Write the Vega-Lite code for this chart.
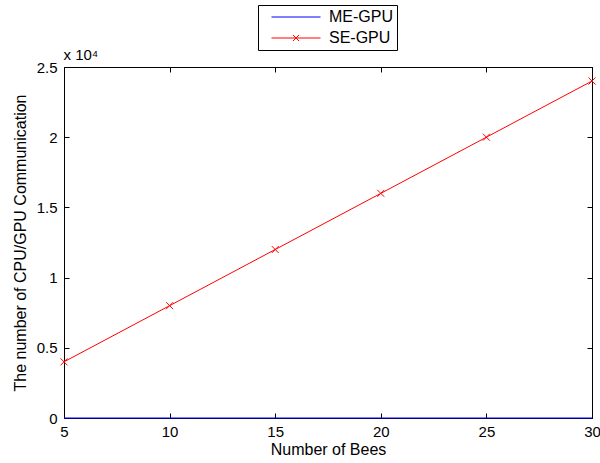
{
  "$schema": "https://vega.github.io/schema/vega-lite/v6.json",
  "width": 528,
  "height": 351,
  "autosize": {"type": "none"},
  "padding": {"left": 64, "top": 67, "right": 8, "bottom": 45},
  "background": "white",
  "config": {
    "view": {"stroke": null},
    "font": "Liberation Sans",
    "axis": {
      "domainColor": "black",
      "domainWidth": 1,
      "tickColor": "black",
      "tickWidth": 1,
      "tickSize": -5,
      "grid": false,
      "labelFont": "Liberation Sans",
      "labelFontSize": 15,
      "labelColor": "black",
      "titleFont": "Liberation Sans",
      "titleFontSize": 16,
      "titleFontWeight": "normal",
      "titleColor": "black"
    }
  },
  "data": {
    "values": [
      {"bees": 5, "series": "ME-GPU", "comm": 0},
      {"bees": 10, "series": "ME-GPU", "comm": 0},
      {"bees": 15, "series": "ME-GPU", "comm": 0},
      {"bees": 20, "series": "ME-GPU", "comm": 0},
      {"bees": 25, "series": "ME-GPU", "comm": 0},
      {"bees": 30, "series": "ME-GPU", "comm": 0},
      {"bees": 5, "series": "SE-GPU", "comm": 4000},
      {"bees": 10, "series": "SE-GPU", "comm": 8000},
      {"bees": 15, "series": "SE-GPU", "comm": 12000},
      {"bees": 20, "series": "SE-GPU", "comm": 16000},
      {"bees": 25, "series": "SE-GPU", "comm": 20000},
      {"bees": 30, "series": "SE-GPU", "comm": 24000}
    ]
  },
  "layer": [
    {
      "mark": {"type": "line", "strokeWidth": 1, "clip": false},
      "encoding": {
        "x": {
          "field": "bees",
          "type": "quantitative",
          "scale": {"domain": [5, 30], "nice": false, "zero": false},
          "axis": {
            "orient": "bottom",
            "values": [5, 10, 15, 20, 25, 30],
            "title": "Number of Bees",
            "labelPadding": 11,
            "titlePadding": 2,
            "labelFlush": false
          }
        },
        "y": {
          "field": "comm",
          "type": "quantitative",
          "scale": {"domain": [0, 25000], "nice": false},
          "axis": {
            "orient": "left",
            "values": [0, 5000, 10000, 15000, 20000, 25000],
            "labelExpr": "datum.value / 10000",
            "title": "The number of CPU/GPU Communication",
            "labelPadding": 12,
            "titlePadding": 8
          }
        },
        "color": {
          "field": "series",
          "type": "nominal",
          "scale": {"domain": ["ME-GPU", "SE-GPU"], "range": ["#0000ff", "#ff0000"]},
          "legend": {
            "title": null,
            "orient": "none",
            "legendX": 194,
            "legendY": -62,
            "strokeColor": "black",
            "fillColor": "white",
            "padding": 4,
            "symbolOffset": 26,
            "symbolType": "stroke",
            "symbolSize": 100,
            "symbolStrokeWidth": 1,
            "labelFont": "Liberation Sans",
            "labelFontSize": 16,
            "labelColor": "black",
            "labelOffset": 25,
            "rowPadding": 5,
            "encode": {
              "symbols": {
                "update": {
                  "shape": {"signal": "datum.value === 'SE-GPU' ? 'M-4.9,0H4.9M-0.6,-0.6L0.6,0.6M-0.6,0.6L0.6,-0.6' : 'M-4.9,0H4.9'"}
                }
              }
            }
          }
        }
      }
    },
    {
      "transform": [{"filter": "datum.series === 'SE-GPU'"}],
      "mark": {
        "type": "point",
        "shape": "M-1,-1L1,1M-1,1L1,-1",
        "size": 49,
        "filled": false,
        "color": "#ff0000",
        "strokeWidth": 1,
        "opacity": 1,
        "clip": false
      },
      "encoding": {
        "x": {
          "field": "bees",
          "type": "quantitative",
          "scale": {"domain": [5, 30], "nice": false, "zero": false},
          "axis": {
            "orient": "top",
            "values": [5, 10, 15, 20, 25, 30],
            "labels": false,
            "title": "x 10⁴",
            "titleFontSize": 15,
            "titleAnchor": "start",
            "titleAlign": "left",
            "titleBaseline": "alphabetic",
            "titleX": -1,
            "titleY": -8
          }
        },
        "y": {
          "field": "comm",
          "type": "quantitative",
          "scale": {"domain": [0, 25000], "nice": false},
          "axis": {"orient": "right", "values": [0, 5000, 10000, 15000, 20000, 25000], "labels": false, "title": null}
        }
      }
    }
  ],
  "resolve": {"axis": {"x": "independent", "y": "independent"}}
}
